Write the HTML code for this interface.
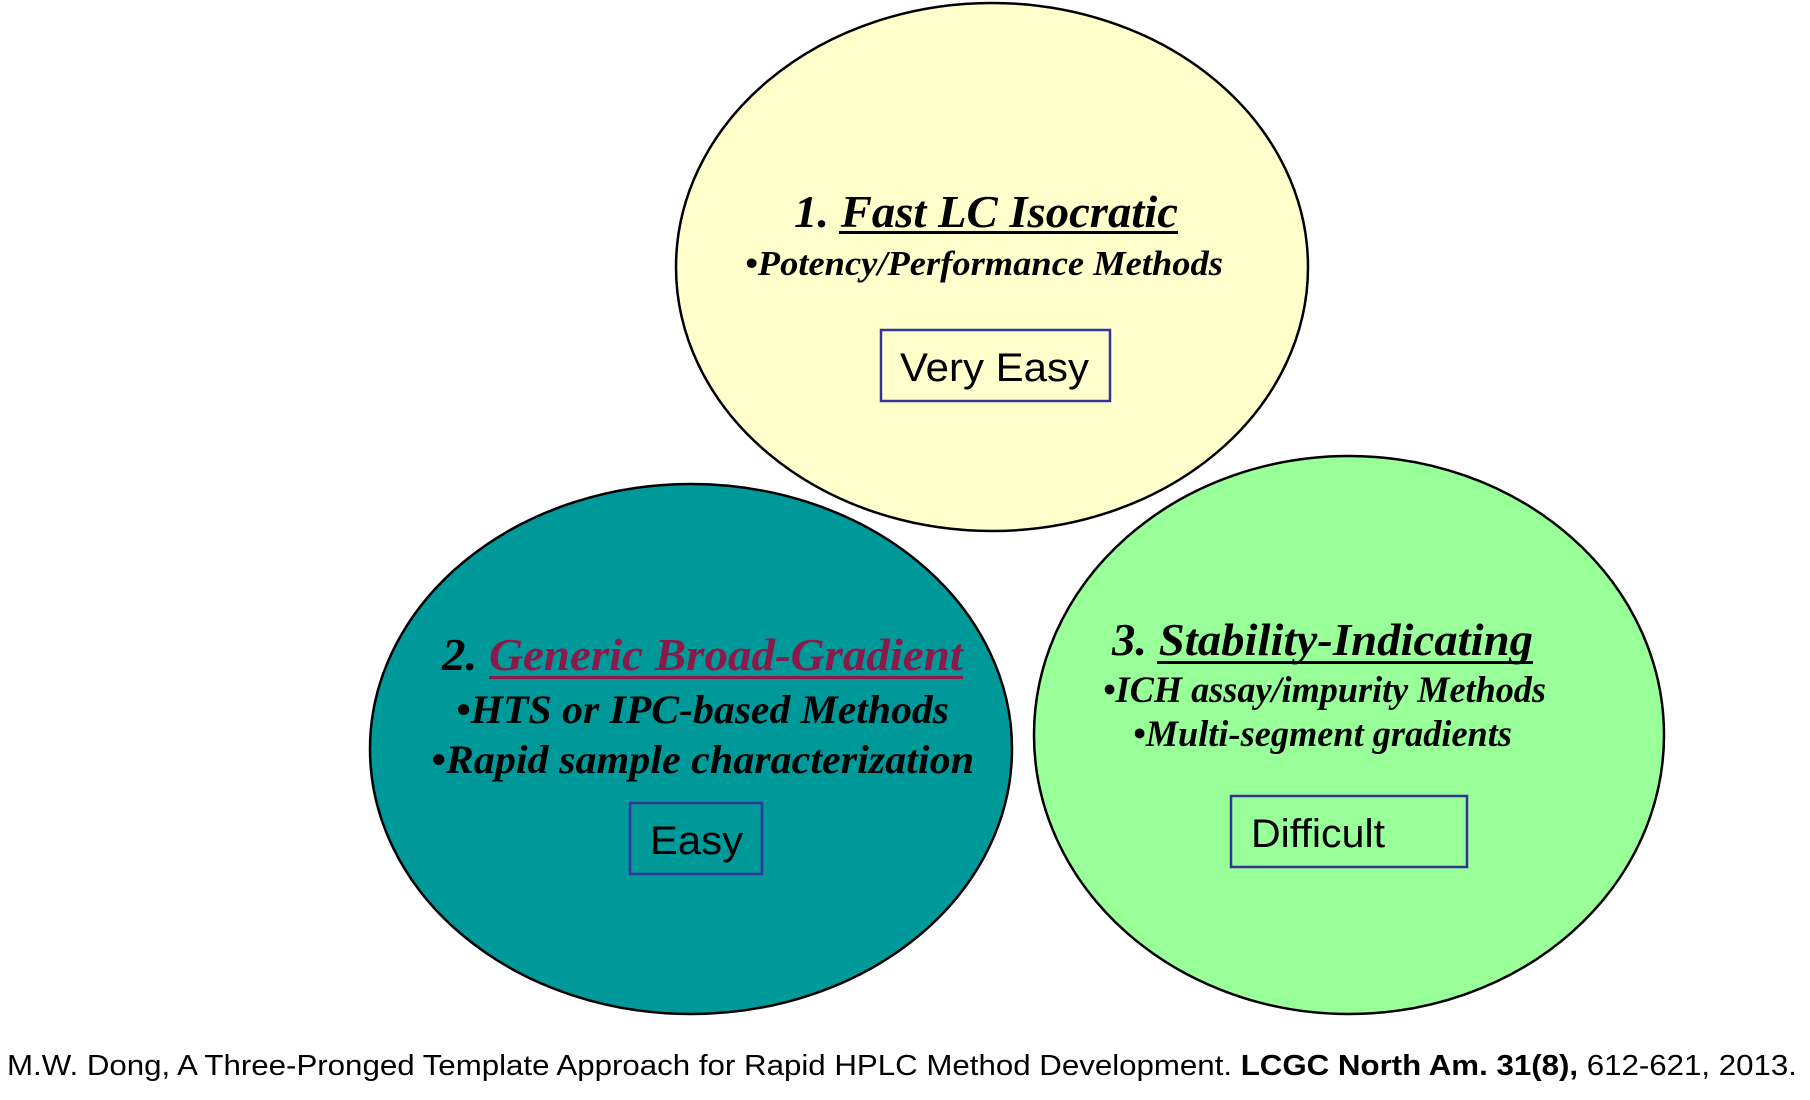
<!DOCTYPE html>
<html><head><meta charset="utf-8"><style>html,body{margin:0;padding:0;background:#fff;width:1810px;height:1100px;overflow:hidden}</style></head>
<body>
<svg width="1810" height="1100" viewBox="0 0 1810 1100" xmlns="http://www.w3.org/2000/svg">
<rect width="1810" height="1100" fill="#fff"/>
<ellipse cx="992" cy="267" rx="316" ry="264" fill="#FFFFCC" stroke="#000" stroke-width="2.5"/>
<ellipse cx="691" cy="749" rx="321" ry="265" fill="#009999" stroke="#000" stroke-width="2.5"/>
<ellipse cx="1349" cy="735" rx="315" ry="279" fill="#99FF99" stroke="#000" stroke-width="2.5"/>
<g font-family="Liberation Serif, serif" font-weight="bold" font-style="italic" fill="#000">
<text x="794" y="227" font-size="46" textLength="384" lengthAdjust="spacingAndGlyphs">1. Fast LC Isocratic</text>
<rect x="839" y="231" width="339" height="3"/>
<text x="745" y="275" font-size="35" textLength="478" lengthAdjust="spacingAndGlyphs">•Potency/Performance Methods</text>
<text x="442" y="670" font-size="46" textLength="521" lengthAdjust="spacingAndGlyphs">2. <tspan fill="#8B1A4A">Generic Broad-Gradient</tspan></text>
<rect x="489" y="676" width="474" height="3" fill="#8B1A4A"/>
<text x="456" y="723" font-size="40" textLength="493" lengthAdjust="spacingAndGlyphs">•HTS or IPC-based Methods</text>
<text x="431" y="773" font-size="40" textLength="543" lengthAdjust="spacingAndGlyphs">•Rapid sample characterization</text>
<text x="1112" y="655" font-size="46" textLength="421" lengthAdjust="spacingAndGlyphs">3. Stability-Indicating</text>
<rect x="1157" y="661" width="376" height="3"/>
<text x="1103" y="702" font-size="37" textLength="443" lengthAdjust="spacingAndGlyphs">•ICH assay/impurity Methods</text>
<text x="1133" y="746" font-size="37" textLength="379" lengthAdjust="spacingAndGlyphs">•Multi-segment gradients</text>
</g>
<g fill="none" stroke="#333399" stroke-width="2.5">
<rect x="881" y="330" width="229" height="71"/>
<rect x="630" y="803" width="132" height="71"/>
<rect x="1231" y="796" width="236" height="71"/>
</g>
<g font-family="Liberation Sans, Arial, sans-serif" font-size="40" fill="#000">
<text x="900" y="381" textLength="189" lengthAdjust="spacingAndGlyphs">Very Easy</text>
<text x="650" y="854" textLength="93" lengthAdjust="spacingAndGlyphs">Easy</text>
<text x="1251" y="847" textLength="134" lengthAdjust="spacingAndGlyphs">Difficult</text>
</g>
<text x="7" y="1075" font-family="Liberation Sans, Arial, sans-serif" font-size="29" fill="#000" textLength="1790" lengthAdjust="spacingAndGlyphs">M.W. Dong, A Three-Pronged Template Approach for Rapid HPLC Method Development. <tspan font-weight="bold">LCGC North Am. 31(8),</tspan> 612-621, 2013.</text>
</svg>
</body></html>
